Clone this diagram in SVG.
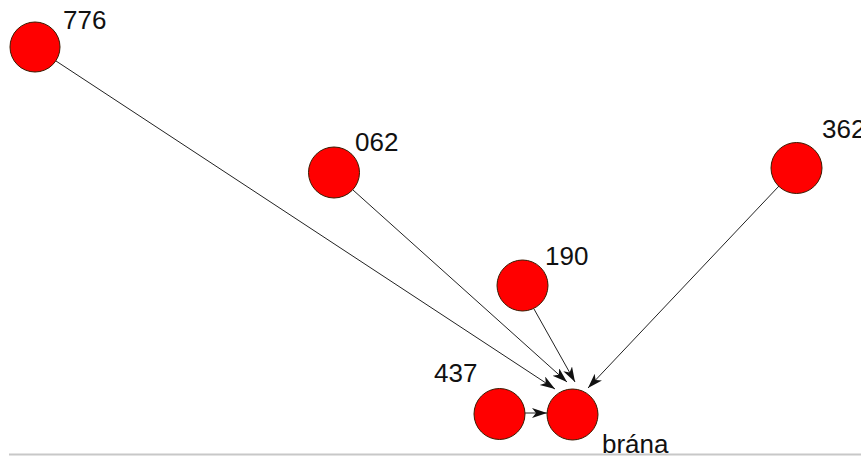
<svg xmlns="http://www.w3.org/2000/svg" width="861" height="456" viewBox="0 0 861 456">
  <style>
    .node circle { fill: #ff0000; stroke: #3a1a00; stroke-width: 1; }
    .node text { font-family: "Liberation Sans", Arial, sans-serif; font-size: 26px; fill: #111; }
    .edge { stroke: #222; stroke-width: 1; fill: none; marker-end: url(#arrow); }
  </style>
  <defs>
    <marker id="arrow" markerUnits="userSpaceOnUse" markerWidth="16" markerHeight="12" refX="15" refY="5" orient="auto">
      <path d="M0,0 L15,5 L0,10 L4,5 z" fill="#111"/>
    </marker>
  </defs>
  <rect width="861" height="456" fill="#ffffff"/>
  <line x1="9" y1="454.5" x2="861" y2="454.5" stroke="#c8c8c8" stroke-width="2"/>

  <g id="connectors">
    <line class="edge" x1="56" y1="61" x2="555" y2="389"/>
    <line class="edge" x1="353" y1="190" x2="567" y2="382"/>
    <line class="edge" x1="534" y1="309" x2="575" y2="382"/>
    <line class="edge" x1="779" y1="186" x2="588" y2="388"/>
    <line class="edge" x1="525" y1="413" x2="547" y2="413"/>
  </g>

  <g id="n776" class="node">
    <circle cx="35" cy="47" r="25"/>
    <text x="63" y="29">776</text>
  </g>
  <g id="n062" class="node">
    <circle cx="334" cy="172.5" r="25.5"/>
    <text x="355" y="151">062</text>
  </g>
  <g id="n190" class="node">
    <circle cx="522.5" cy="285.5" r="25.5"/>
    <text x="545" y="265">190</text>
  </g>
  <g id="n362" class="node">
    <circle cx="796.5" cy="168" r="25.5"/>
    <text x="822" y="138">362</text>
  </g>
  <g id="n437" class="node">
    <circle cx="499.5" cy="414" r="25.5"/>
    <text x="434" y="382">437</text>
  </g>
  <g id="nbrana" class="node">
    <circle cx="572.5" cy="414.5" r="25.5"/>
    <text x="602" y="453">brána</text>
  </g>
</svg>
